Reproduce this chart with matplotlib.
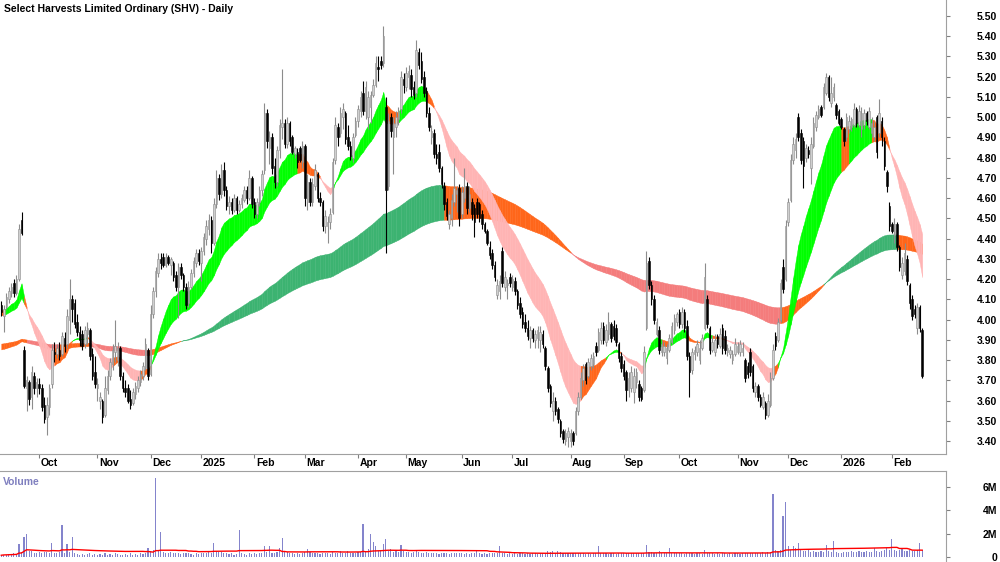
import matplotlib
matplotlib.use("Agg")
import matplotlib.pyplot as plt
import matplotlib.transforms as mtransforms
import numpy as np
import pandas as pd

plt.rcParams['font.family'] = ['Liberation Sans', 'DejaVu Sans']

TITLE = "Select Harvests Limited Ordinary (SHV) - Daily"

# daily bars (open, high, low, close), one list per month
sep24 = [(4.07, 4.09, 4.02, 4.04), (4.02, 4.07, 3.94, 4.05), (4.06, 4.13, 4.05, 4.11), (4.10, 4.16, 4.08, 4.14),
         (4.13, 4.18, 4.11, 4.16), (4.18, 4.20, 4.11, 4.13), (4.13, 4.22, 4.12, 4.20), (4.20, 4.47, 4.19, 4.45),
         (4.49, 4.53, 4.42, 4.43), (3.85, 3.87, 3.66, 3.67), (3.66, 3.72, 3.55, 3.70), (3.69, 3.70, 3.58, 3.61),
         (3.62, 3.77, 3.56, 3.74), (3.72, 3.74, 3.63, 3.66), (3.66, 3.71, 3.62, 3.69)]
oct24 = [(3.68, 3.71, 3.63, 3.66), (3.66, 3.68, 3.55, 3.57), (3.58, 3.62, 3.49, 3.51), (3.52, 3.62, 3.43, 3.58),
         (3.57, 3.68, 3.53, 3.66), (3.68, 3.88, 3.66, 3.85), (3.84, 3.89, 3.79, 3.83), (3.83, 3.88, 3.81, 3.86),
         (3.85, 3.89, 3.80, 3.82), (3.83, 3.94, 3.82, 3.92), (3.91, 3.94, 3.84, 3.87), (3.88, 4.05, 3.86, 4.02),
         (4.00, 4.20, 3.93, 4.10), (4.10, 4.12, 3.99, 4.05), (4.08, 4.10, 3.96, 3.98), (3.99, 4.03, 3.92, 3.94),
         (3.94, 3.97, 3.87, 3.90), (3.93, 3.95, 3.85, 3.87), (3.88, 3.97, 3.86, 3.95), (3.93, 3.99, 3.88, 3.96),
         (3.95, 3.96, 3.80, 3.82), (3.83, 3.86, 3.70, 3.72), (3.74, 3.82, 3.66, 3.68)]
nov24 = [(3.66, 3.71, 3.60, 3.68), (3.60, 3.64, 3.56, 3.62), (3.60, 3.61, 3.49, 3.52), (3.53, 3.72, 3.52, 3.66),
         (3.65, 3.75, 3.63, 3.72), (3.72, 3.81, 3.70, 3.79), (3.78, 3.88, 3.75, 3.85), (3.84, 4.00, 3.79, 3.87),
         (3.80, 3.89, 3.77, 3.86), (3.86, 3.87, 3.70, 3.72), (3.72, 3.74, 3.64, 3.66), (3.66, 3.70, 3.62, 3.64),
         (3.66, 3.68, 3.59, 3.60), (3.61, 3.65, 3.56, 3.58), (3.59, 3.66, 3.58, 3.64), (3.63, 3.69, 3.61, 3.67),
         (3.66, 3.72, 3.64, 3.70), (3.69, 3.75, 3.67, 3.73), (3.72, 3.79, 3.70, 3.77), (3.76, 3.91, 3.75, 3.88),
         (3.85, 3.86, 3.70, 3.72)]
dec24 = [(3.73, 4.07, 3.72, 4.03), (4.03, 4.16, 4.01, 4.14), (4.14, 4.26, 4.11, 4.24), (4.23, 4.33, 4.21, 4.30),
         (4.30, 4.33, 4.25, 4.28), (4.31, 4.33, 4.26, 4.27), (4.27, 4.33, 4.26, 4.31), (4.31, 4.32, 4.27, 4.28),
         (4.27, 4.31, 4.22, 4.30), (4.28, 4.29, 4.19, 4.21), (4.22, 4.24, 4.14, 4.16), (4.16, 4.28, 4.01, 4.26),
         (4.26, 4.28, 4.20, 4.22), (4.22, 4.23, 4.14, 4.16), (4.16, 4.18, 4.05, 4.07), (4.08, 4.19, 4.06, 4.16),
         (4.16, 4.25, 4.15, 4.23), (4.23, 4.31, 4.21, 4.29), (4.28, 4.35, 4.26, 4.33), (4.33, 4.35, 4.27, 4.29)]
jan25 = [(4.28, 4.36, 4.19, 4.34), (4.34, 4.43, 4.32, 4.41), (4.40, 4.49, 4.37, 4.46), (4.45, 4.52, 4.42, 4.49),
         (4.49, 4.51, 4.33, 4.38), (4.38, 4.60, 4.37, 4.57), (4.57, 4.74, 4.55, 4.70), (4.70, 4.72, 4.59, 4.62),
         (4.62, 4.77, 4.60, 4.74), (4.74, 4.78, 4.61, 4.64), (4.64, 4.66, 4.54, 4.56), (4.56, 4.61, 4.52, 4.58),
         (4.58, 4.60, 4.52, 4.54), (4.54, 4.62, 4.53, 4.60), (4.60, 4.61, 4.52, 4.54), (4.54, 4.59, 4.53, 4.57),
         (4.57, 4.62, 4.55, 4.60), (4.59, 4.66, 4.58, 4.64), (4.64, 4.66, 4.57, 4.60), (4.60, 4.74, 4.59, 4.70),
         (4.70, 4.71, 4.55, 4.57)]
feb25 = [(4.58, 4.60, 4.50, 4.52), (4.52, 4.60, 4.50, 4.58), (4.58, 4.66, 4.56, 4.64), (4.64, 4.74, 4.61, 4.72),
         (4.74, 5.07, 4.72, 5.02), (5.02, 5.04, 4.85, 4.88), (4.85, 4.93, 4.77, 4.90), (4.90, 4.92, 4.72, 4.75),
         (4.76, 4.80, 4.65, 4.68), (4.68, 4.86, 4.66, 4.84), (4.84, 4.99, 4.80, 4.96), (4.95, 5.24, 4.89, 4.97),
         (4.97, 4.99, 4.85, 4.87), (4.87, 5.00, 4.85, 4.97), (4.97, 4.98, 4.86, 4.88), (4.90, 4.91, 4.82, 4.83),
         (4.82, 4.86, 4.80, 4.85), (4.83, 4.85, 4.75, 4.78), (4.85, 4.86, 4.78, 4.79), (4.78, 4.88, 4.75, 4.86)]
mar25 = [(4.86, 4.87, 4.56, 4.60), (4.58, 4.72, 4.54, 4.68), (4.68, 4.70, 4.56, 4.58), (4.58, 4.70, 4.56, 4.67),
         (4.66, 4.77, 4.64, 4.74), (4.72, 4.73, 4.58, 4.60), (4.60, 4.63, 4.56, 4.58), (4.58, 4.59, 4.44, 4.46),
         (4.46, 4.54, 4.43, 4.51), (4.46, 4.51, 4.38, 4.48), (4.48, 4.55, 4.45, 4.52), (4.53, 4.80, 4.52, 4.78),
         (4.79, 5.00, 4.77, 4.96), (4.95, 4.97, 4.86, 4.90), (4.92, 5.05, 4.90, 5.02), (5.00, 5.07, 4.94, 5.04),
         (5.02, 5.03, 4.87, 4.89), (4.90, 4.96, 4.84, 4.86), (4.86, 4.88, 4.79, 4.81), (4.80, 4.92, 4.78, 4.90),
         (4.91, 5.00, 4.90, 4.98)]
apr25 = [(4.98, 5.06, 4.95, 5.04), (5.03, 5.13, 5.00, 5.10), (5.12, 5.18, 5.01, 5.03), (5.03, 5.18, 4.99, 5.15),
         (5.00, 5.13, 4.94, 5.10), (5.05, 5.13, 4.97, 5.11), (5.11, 5.19, 5.10, 5.16), (5.16, 5.30, 5.15, 5.27),
         (5.25, 5.30, 5.18, 5.24), (5.28, 5.30, 5.24, 5.26), (5.27, 5.45, 5.25, 5.40), (5.05, 5.10, 4.33, 4.64),
         (4.66, 5.02, 4.64, 4.98), (5.00, 5.02, 4.90, 4.93), (4.90, 5.00, 4.72, 4.97), (4.95, 5.03, 4.90, 5.00),
         (4.99, 5.05, 4.96, 5.03), (5.04, 5.23, 5.02, 5.20), (5.19, 5.22, 5.12, 5.16)]
may25 = [(5.15, 5.25, 5.13, 5.22), (5.20, 5.26, 5.14, 5.23), (5.21, 5.24, 5.10, 5.14), (5.15, 5.18, 5.09, 5.11),
         (5.12, 5.38, 5.10, 5.33), (5.32, 5.34, 5.24, 5.26), (5.28, 5.32, 5.17, 5.19), (5.20, 5.23, 5.10, 5.12),
         (5.13, 5.15, 5.00, 5.02), (5.02, 5.05, 4.93, 4.95), (4.90, 4.96, 4.87, 4.93), (4.92, 4.94, 4.80, 4.82),
         (4.82, 4.87, 4.77, 4.80), (4.83, 4.87, 4.73, 4.75), (4.75, 4.76, 4.65, 4.67), (4.66, 4.68, 4.54, 4.57),
         (4.58, 4.60, 4.49, 4.51), (4.47, 4.54, 4.45, 4.52), (4.50, 4.62, 4.46, 4.59), (4.58, 4.80, 4.56, 4.65),
         (4.62, 4.66, 4.53, 4.64), (4.65, 4.67, 4.46, 4.50)]
jun25 = [(4.52, 4.66, 4.50, 4.63), (4.60, 4.75, 4.58, 4.66), (4.66, 4.68, 4.52, 4.55), (4.55, 4.66, 4.53, 4.62),
         (4.58, 4.60, 4.49, 4.52), (4.55, 4.57, 4.41, 4.48), (4.58, 4.60, 4.50, 4.52), (4.57, 4.58, 4.48, 4.50),
         (4.52, 4.54, 4.45, 4.47), (4.47, 4.48, 4.43, 4.44), (4.44, 4.45, 4.37, 4.38), (4.36, 4.39, 4.30, 4.32),
         (4.33, 4.35, 4.25, 4.27), (4.27, 4.29, 4.19, 4.21), (4.12, 4.20, 4.10, 4.17), (4.14, 4.22, 4.10, 4.19),
         (4.34, 4.36, 4.16, 4.18), (4.16, 4.24, 4.14, 4.21), (4.17, 4.20, 4.10, 4.18), (4.21, 4.23, 4.16, 4.18)]
jul25 = [(4.16, 4.22, 4.14, 4.20), (4.19, 4.21, 4.12, 4.14), (4.14, 4.15, 4.05, 4.07), (4.08, 4.11, 4.01, 4.03),
         (4.04, 4.06, 3.96, 3.98), (3.99, 4.03, 3.94, 3.96), (3.96, 4.00, 3.90, 3.92), (3.91, 3.97, 3.86, 3.95),
         (3.95, 3.96, 3.89, 3.91), (3.90, 3.95, 3.86, 3.93), (3.91, 3.97, 3.86, 3.95), (3.90, 3.97, 3.84, 3.94),
         (3.93, 3.95, 3.86, 3.88), (3.86, 3.87, 3.75, 3.77), (3.76, 3.77, 3.64, 3.66), (3.67, 3.68, 3.57, 3.59),
         (3.55, 3.64, 3.50, 3.60), (3.60, 3.62, 3.53, 3.55), (3.56, 3.57, 3.49, 3.51), (3.50, 3.51, 3.42, 3.44),
         (3.45, 3.46, 3.39, 3.41), (3.40, 3.46, 3.38, 3.44), (3.42, 3.47, 3.37, 3.45)]
aug25 = [(3.40, 3.46, 3.37, 3.44), (3.44, 3.45, 3.38, 3.40), (3.44, 3.57, 3.43, 3.55), (3.55, 3.64, 3.53, 3.62),
         (3.62, 3.74, 3.61, 3.71), (3.70, 3.78, 3.67, 3.76), (3.78, 3.79, 3.68, 3.70), (3.72, 3.81, 3.71, 3.79),
         (3.77, 3.83, 3.75, 3.81), (3.78, 3.84, 3.76, 3.82), (3.87, 3.89, 3.82, 3.84), (3.85, 3.96, 3.84, 3.94),
         (3.90, 3.99, 3.88, 3.96), (3.97, 3.99, 3.88, 3.90), (3.89, 3.98, 3.87, 3.95), (3.93, 4.04, 3.90, 3.99),
         (3.98, 3.99, 3.89, 3.91), (3.97, 4.00, 3.90, 3.92), (3.96, 3.98, 3.87, 3.89), (3.88, 3.89, 3.79, 3.81),
         (3.82, 3.84, 3.74, 3.76)]
sep25 = [(3.78, 3.80, 3.70, 3.72), (3.74, 3.75, 3.60, 3.65), (3.65, 3.74, 3.62, 3.71), (3.66, 3.77, 3.64, 3.74),
         (3.64, 3.76, 3.59, 3.72), (3.69, 3.76, 3.66, 3.74), (3.68, 3.70, 3.60, 3.62), (3.66, 3.67, 3.60, 3.61),
         (3.65, 3.87, 3.64, 3.84), (3.96, 4.34, 3.95, 4.28), (4.29, 4.31, 4.15, 4.17), (4.17, 4.19, 4.07, 4.10),
         (4.10, 4.12, 3.98, 4.00), (3.93, 4.01, 3.92, 3.99), (3.95, 3.97, 3.83, 3.85), (3.84, 3.90, 3.82, 3.88),
         (3.84, 3.89, 3.82, 3.87), (3.81, 3.88, 3.78, 3.86), (3.85, 3.93, 3.84, 3.91), (3.89, 3.99, 3.88, 3.97),
         (3.95, 4.03, 3.93, 4.01), (3.99, 4.04, 3.97, 4.03)]
oct25 = [(4.04, 4.05, 3.96, 3.98), (3.98, 4.06, 3.96, 4.04), (4.04, 4.05, 3.94, 3.96), (3.97, 4.00, 3.80, 3.82),
         (3.82, 3.84, 3.62, 3.74), (3.75, 3.86, 3.73, 3.84), (3.83, 3.87, 3.80, 3.85), (3.84, 3.90, 3.82, 3.88),
         (3.80, 3.90, 3.78, 3.86), (3.86, 3.93, 3.85, 3.91), (3.96, 4.28, 3.95, 4.21), (4.10, 4.12, 3.96, 3.98),
         (3.96, 3.97, 3.83, 3.85), (3.85, 3.92, 3.84, 3.89), (3.84, 3.93, 3.82, 3.90), (3.92, 3.93, 3.86, 3.88),
         (3.87, 3.96, 3.86, 3.93), (3.96, 3.98, 3.83, 3.86), (3.92, 3.95, 3.83, 3.85), (3.84, 3.88, 3.82, 3.86),
         (3.83, 3.87, 3.81, 3.85), (3.80, 3.85, 3.78, 3.83), (3.83, 3.91, 3.82, 3.88)]
nov25 = [(3.84, 3.89, 3.83, 3.87), (3.84, 3.90, 3.82, 3.88), (3.84, 3.89, 3.82, 3.86), (3.80, 3.81, 3.69, 3.71),
         (3.77, 3.79, 3.71, 3.73), (3.84, 3.86, 3.72, 3.74), (3.77, 3.78, 3.64, 3.66), (3.64, 3.69, 3.62, 3.67),
         (3.67, 3.68, 3.60, 3.62), (3.62, 3.63, 3.57, 3.58), (3.57, 3.64, 3.56, 3.62), (3.59, 3.60, 3.51, 3.53),
         (3.53, 3.63, 3.52, 3.60), (3.58, 3.74, 3.57, 3.71), (3.71, 3.88, 3.70, 3.85), (3.92, 3.94, 3.85, 3.87),
         (3.90, 4.01, 3.89, 3.99), (4.00, 4.20, 3.99, 4.18), (4.26, 4.30, 4.13, 4.15), (4.20, 4.49, 4.19, 4.46)]
dec25 = [(4.48, 4.60, 4.46, 4.58), (4.59, 4.82, 4.58, 4.79), (4.79, 4.90, 4.77, 4.87), (4.84, 4.92, 4.80, 4.89),
         (5.00, 5.02, 4.88, 4.90), (4.92, 4.94, 4.77, 4.79), (4.88, 4.90, 4.65, 4.76), (4.80, 4.87, 4.78, 4.85),
         (4.84, 4.86, 4.80, 4.82), (4.75, 4.90, 4.67, 4.87), (4.86, 5.00, 4.85, 4.97), (4.95, 5.03, 4.93, 5.01),
         (5.00, 5.06, 4.99, 5.04), (5.05, 5.06, 5.00, 5.01), (5.05, 5.17, 5.04, 5.15), (5.12, 5.22, 5.11, 5.20),
         (5.20, 5.21, 5.08, 5.10), (5.07, 5.20, 5.05, 5.12), (5.10, 5.17, 5.08, 5.15), (5.06, 5.07, 4.99, 5.01),
         (5.03, 5.04, 4.96, 4.97)]
jan26 = [(4.99, 5.00, 4.94, 4.95), (4.94, 4.95, 4.86, 4.88), (4.90, 5.02, 4.88, 5.00), (4.94, 5.01, 4.92, 4.98),
         (4.95, 5.00, 4.93, 4.99), (4.96, 5.07, 4.95, 5.04), (5.04, 5.05, 4.95, 4.97), (4.96, 5.06, 4.95, 5.03),
         (4.94, 5.05, 4.90, 5.02), (4.96, 5.04, 4.94, 5.02), (5.02, 5.03, 4.96, 4.98), (4.95, 5.05, 4.94, 5.03),
         (4.92, 5.00, 4.90, 4.97), (4.90, 4.98, 4.88, 4.95), (5.00, 5.01, 4.80, 4.83), (4.92, 5.09, 4.90, 5.02),
         (4.98, 5.00, 4.86, 4.90), (4.88, 4.90, 4.74, 4.76), (4.73, 4.74, 4.63, 4.66), (4.56, 4.58, 4.44, 4.46)]
feb26 = [(4.47, 4.48, 4.43, 4.44), (4.42, 4.50, 4.38, 4.47), (4.47, 4.48, 4.34, 4.36), (4.36, 4.37, 4.24, 4.26),
         (4.22, 4.31, 4.20, 4.28), (4.24, 4.38, 4.22, 4.33), (4.30, 4.32, 4.17, 4.19), (4.17, 4.18, 4.05, 4.08),
         (4.10, 4.12, 4.00, 4.02), (4.05, 4.07, 4.01, 4.03), (3.96, 4.08, 3.93, 4.06), (4.06, 4.07, 3.94, 3.96),
         (3.95, 3.96, 3.71, 3.72)]

# daily volume in millions of shares, one list per month
vol_sep24 = [0.15, 0.2, 0.2, 0.25, 0.2, 0.3, 0.25, 1.1, 0.45, 1.7, 2.0, 0.5, 0.5, 0.35, 0.3]
vol_oct24 = [0.4, 0.35, 0.4, 0.45, 0.3, 1.2, 0.35, 0.3, 0.4, 2.7, 0.35, 1.1, 0.4, 1.7, 0.3, 0.25, 0.2, 0.25, 0.2,
             0.25, 0.3, 0.2, 0.25]
vol_nov24 = [0.2, 0.25, 0.2, 0.3, 0.2, 0.25, 0.2, 0.3, 0.25, 0.2, 0.2, 0.25, 0.2, 0.3, 0.2, 0.25, 0.2, 0.3, 0.25,
             0.3, 0.8]
vol_dec24 = [0.5, 0.6, 6.8, 0.5, 2.1, 0.4, 0.35, 0.3, 0.4, 0.3, 0.35, 0.3, 0.25, 0.3, 0.35, 0.3, 0.25, 0.2, 0.3, 0.25]
vol_jan25 = [0.3, 0.35, 0.3, 0.4, 0.35, 1.2, 0.5, 0.45, 0.4, 0.35, 0.3, 0.25, 0.3, 0.2, 0.25, 2.3, 0.3, 0.25, 0.2,
             0.3, 0.25]
vol_feb25 = [0.3, 0.25, 0.3, 0.35, 0.9, 0.4, 0.9, 0.35, 0.3, 0.4, 0.8, 1.6, 0.5, 0.4, 0.3, 0.3, 0.25, 0.3, 0.25, 0.3]
vol_mar25 = [0.4, 0.7, 0.4, 0.3, 0.35, 0.3, 0.25, 0.3, 0.35, 0.3, 0.25, 0.4, 0.35, 0.3, 0.5, 0.35, 0.3, 0.5, 0.3,
             0.35, 0.3]
vol_apr25 = [0.4, 0.45, 2.8, 0.5, 0.7, 2.0, 1.3, 0.9, 0.5, 0.6, 1.1, 1.5, 0.5, 0.7, 0.4, 0.5, 0.4, 1.0, 0.5]
vol_may25 = [0.45, 0.4, 0.35, 0.4, 0.6, 0.4, 0.35, 0.3, 0.4, 0.35, 0.3, 0.35, 0.3, 0.25, 0.3, 0.35, 0.3, 0.25, 0.3,
             0.35, 0.3, 0.3]
vol_jun25 = [0.3, 0.25, 0.3, 0.25, 0.3, 0.3, 0.5, 0.3, 0.25, 0.3, 0.25, 0.3, 0.35, 0.3, 0.3, 0.9, 0.35, 0.3, 0.25, 0.3]
vol_jul25 = [0.25, 0.3, 0.25, 0.3, 0.3, 0.25, 0.3, 0.25, 0.3, 0.3, 0.25, 0.3, 0.35, 0.3, 0.5, 0.4, 0.5, 0.35, 0.5,
             0.4, 0.3, 0.35, 0.3]
vol_aug25 = [0.3, 0.35, 0.3, 0.3, 0.35, 0.3, 0.25, 0.3, 0.25, 0.3, 0.3, 0.9, 0.35, 0.3, 0.3, 0.25, 0.3, 0.3, 0.25,
             0.3, 0.35]
vol_sep25 = [0.3, 0.35, 0.3, 0.3, 0.35, 0.3, 0.3, 0.3, 0.35, 1.0, 0.45, 0.4, 0.35, 0.3, 0.5, 0.3, 0.35, 0.3, 0.8,
             0.3, 0.3, 0.3]
vol_oct25 = [0.3, 0.3, 0.25, 0.3, 0.35, 0.3, 0.25, 0.3, 0.3, 0.25, 0.6, 0.35, 0.3, 0.3, 0.25, 0.3, 0.25, 0.3, 0.3,
             0.25, 0.3, 0.25, 0.3]
vol_nov25 = [0.3, 0.25, 0.3, 0.35, 0.3, 0.3, 0.35, 0.3, 0.3, 0.35, 0.4, 0.35, 0.4, 0.45, 5.4, 0.6, 0.5, 0.6, 3.5, 4.7]
vol_dec25 = [0.9, 0.6, 0.9, 0.8, 1.2, 0.6, 0.5, 0.5, 0.6, 0.45, 0.5, 0.4, 0.45, 0.5, 0.4, 1.0, 0.5, 0.45, 1.4, 0.4,
             0.35]
vol_jan26 = [0.35, 0.4, 0.45, 0.4, 0.5, 0.45, 0.4, 0.5, 0.45, 0.4, 0.5, 0.45, 0.4, 0.8, 0.5, 0.45, 0.5, 0.6, 0.8, 0.6]
vol_feb26 = [1.5, 0.6, 0.5, 0.6, 0.8, 0.5, 0.55, 0.6, 0.5, 0.55, 0.6, 1.2, 0.6]

short_seed = (4.05, 4.02)
long_seed = (3.85, 3.88)

asx_holidays = ['2024-12-25', '2024-12-26', '2025-01-01', '2025-01-27', '2025-04-18', '2025-04-21',
                '2025-04-25', '2025-06-09', '2025-12-25', '2025-12-26', '2026-01-01', '2026-01-26']

months = [sep24, oct24, nov24, dec24, jan25, feb25, mar25, apr25, may25, jun25, jul25, aug25, sep25, oct25,
          nov25, dec25, jan26, feb26]
vols = [vol_sep24, vol_oct24, vol_nov24, vol_dec24, vol_jan25, vol_feb25, vol_mar25, vol_apr25, vol_may25,
        vol_jun25, vol_jul25, vol_aug25, vol_sep25, vol_oct25, vol_nov25, vol_dec25, vol_jan26, vol_feb26]

ohlc = np.array([b for m in months for b in m])
opens, highs, lows, closes = ohlc.T
volume = np.array([v for m in vols for v in m])
n = len(closes)
x = np.arange(n)
dates = pd.bdate_range('2024-09-10', periods=n, freq='C', holidays=asx_holidays)


def ema(values, span, seed):
    a = 2.0 / (span + 1)
    out = []
    e = seed
    for v in values:
        e = e + a * (v - e)
        out.append(e)
    return np.array(out)


def band_colors(fast, slow, seed, up_col, mix_col, down_col, lag=4):
    # green: fast above slow and rising, red: fast below slow and falling, orange: anything else
    prev = np.r_[[seed] * lag, fast][:len(fast)]
    rising = fast > prev
    above = fast > slow
    cols = []
    for r, a in zip(rising, above):
        if r and a:
            cols.append(up_col)
        elif not r and not a:
            cols.append(down_col)
        else:
            cols.append(mix_col)
    return cols


def draw_band(ax, fast, slow, cols):
    for i in range(len(fast) - 1):
        ax.fill_between(x[i:i + 2], fast[i:i + 2], slow[i:i + 2], color=cols[i + 1],
                        edgecolor=cols[i + 1], linewidth=0.3, zorder=2)


short_fast = ema(closes, 15, short_seed[0])
short_slow = ema(closes, 30, short_seed[1])
long_fast = ema(closes, 135, long_seed[0])
long_slow = ema(closes, 210, long_seed[1])

ORANGE = '#ff661a'
short_cols = band_colors(short_fast, short_slow, short_seed[0], '#00ff00', ORANGE, '#ffb4b4')
long_cols = band_colors(long_fast, long_slow, long_seed[0], '#3cb371', ORANGE, '#f47c7c')

W, H = 1000, 562
fig = plt.figure(figsize=(W / 100, H / 100), dpi=100)
ax = fig.add_axes([0, 1 - 454 / H, 946 / W, 454 / H])
axv = fig.add_axes([0, 0, 946 / W, (H - 471) / H])

draw_band(ax, long_fast, long_slow, long_cols)
draw_band(ax, short_fast, short_slow, short_cols)

up = closes >= opens
wick_cols = np.where(up, '#8c8c8c', '#000000')
ax.vlines(x, lows, highs, colors=wick_cols, linewidth=0.8, zorder=3)
body_low = np.minimum(opens, closes)
body_h = np.maximum(np.abs(closes - opens), 0.006)
ax.bar(x, body_h, bottom=body_low, width=0.6,
       color=np.where(up, '#cfcfcf', '#000000'), edgecolor=np.where(up, '#8c8c8c', '#000000'),
       linewidth=0.4, zorder=4)

ax.set_xlim(-0.5, 373.4)
ax.set_ylim(3.336, 5.579)
yt = np.round(np.arange(3.4, 5.51, 0.1), 2)
ax.yaxis.tick_right()
ax.set_yticks(yt)
ax.set_yticklabels([f"{v:.2f}" for v in yt], fontsize=7.5, fontweight='bold', ha='right')
ax.tick_params(axis='y', length=3, color='#808080', pad=34)

# month ticks and labels
month_start = [i for i in range(1, n) if dates[i].month != dates[i - 1].month]
ax.set_xticks(month_start)
ax.set_xticklabels([])
ax.tick_params(axis='x', length=3, color='#808080')
trans = mtransforms.blended_transform_factory(ax.transData, ax.transAxes)
for i in month_start:
    lab = str(dates[i].year) if dates[i].month == 1 else dates[i].strftime('%b')
    ax.text(i + 0.6, -0.008, lab, transform=trans, ha='left', va='top', fontsize=7.5, fontweight='bold')

for s in ['left', 'top']:
    ax.spines[s].set_visible(False)
for s in ['right', 'bottom']:
    ax.spines[s].set_color('#a0a0a0')

# volume panel
axv.bar(x, volume, width=0.45, color='#8484cc', zorder=2)
vol_ma = pd.Series(volume).rolling(50, min_periods=1).mean()
axv.plot(x, vol_ma, color='#ff0000', linewidth=1.0, zorder=3)
axv.set_xlim(-0.5, 373.4)
axv.set_ylim(-0.43, 7.37)
axv.yaxis.tick_right()
axv.set_yticks([0, 2, 4, 6])
axv.set_yticklabels(['0', '2M', '4M', '6M'], fontsize=7.5, fontweight='bold', ha='right')
axv.tick_params(axis='y', length=3, color='#808080', pad=34)
axv.set_xticks([])
for s in ['left', 'bottom']:
    axv.spines[s].set_visible(False)
for s in ['right', 'top']:
    axv.spines[s].set_color('#a0a0a0')
axv.text(0.003, 0.93, 'Volume', transform=axv.transAxes, ha='left', va='top', fontsize=7.5,
         fontweight='bold', color='#7f7fbf')

fig.text(0.004, 0.993, TITLE, ha='left', va='top', fontsize=7.5, fontweight='bold')

fig.savefig('out.png', dpi=100)
